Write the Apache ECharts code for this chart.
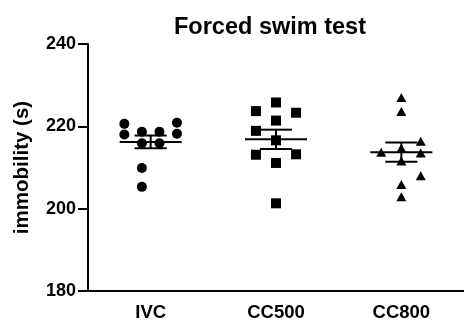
<!DOCTYPE html>
<html>
<head>
<meta charset="utf-8">
<script src="https://cdn.jsdelivr.net/npm/echarts@6.0.0/dist/echarts.min.js"></script>
<style>
html, body { margin: 0; padding: 0; background: #fff; }
#chart { width: 464px; height: 322px; }
</style>
</head>
<body>
<div id="chart"></div>
<script>
// groups and raw values (immobility, seconds)
var groups = ['IVC', 'CC500', 'CC800'];
var ivcValues   = [220.6, 218.0, 218.7, 218.7, 220.9, 218.2, 215.9, 215.9, 209.9, 205.3];
var cc500Values = [225.8, 223.7, 223.3, 221.4, 218.9, 216.6, 213.1, 213.2, 211.1, 201.3];
var cc800Values = [227.0, 223.6, 216.4, 213.7, 214.7, 213.5, 211.6, 208.0, 205.9, 202.9];
// horizontal spread of the dots inside each group (category units)
var ivcJitter   = [-0.21, -0.21, -0.07, 0.07, 0.21, 0.21, -0.07, 0.07, -0.07, -0.07];
var cc500Jitter = [0, -0.16, 0.16, 0, -0.16, 0, -0.16, 0.16, 0, 0];
var cc800Jitter = [0, 0, 0.155, -0.16, 0, 0.155, 0, 0.155, 0, 0];
var yTicks = [180, 200, 220, 240];

var allValues = [ivcValues, cc500Values, cc800Values];
var allJitter = [ivcJitter, cc500Jitter, cc800Jitter];
var symbols = ['circle', 'rect', 'triangle'];
var symbolSizes = [10, 10, [10, 9]];

function meanSem(arr) {
  var n = arr.length, s = 0;
  for (var i = 0; i < n; i++) s += arr[i];
  var m = s / n, ss = 0;
  for (var j = 0; j < n; j++) ss += (arr[j] - m) * (arr[j] - m);
  return [m, Math.sqrt(ss / (n - 1)) / Math.sqrt(n)];
}

var summary = [];
for (var g = 0; g < groups.length; g++) {
  var ms = meanSem(allValues[g]);
  summary.push([g, ms[0], ms[1]]);
}

var font = "'Liberation Sans', Arial, sans-serif";
var series = [{
  type: 'custom',
  xAxisIndex: 1,
  data: summary,
  encode: { x: 0, y: 1 },
  z: 1,
  renderItem: function (params, api) {
    var x = api.value(0), m = api.value(1), e = api.value(2);
    var c = api.coord([x, m]);
    var top = api.coord([x, m + e]);
    var bot = api.coord([x, m - e]);
    var st = { stroke: '#000', lineWidth: 2 };
    return {
      type: 'group',
      children: [
        { type: 'line', shape: { x1: c[0] - 31, y1: c[1], x2: c[0] + 31, y2: c[1] }, style: st },
        { type: 'line', shape: { x1: c[0], y1: top[1], x2: c[0], y2: bot[1] }, style: st },
        { type: 'line', shape: { x1: c[0] - 16, y1: top[1], x2: c[0] + 16, y2: top[1] }, style: st },
        { type: 'line', shape: { x1: c[0] - 16, y1: bot[1], x2: c[0] + 16, y2: bot[1] }, style: st }
      ]
    };
  }
}];

for (var k = 0; k < groups.length; k++) {
  var pts = [];
  for (var p = 0; p < allValues[k].length; p++) {
    pts.push([k + allJitter[k][p], allValues[k][p]]);
  }
  series.push({
    name: groups[k],
    type: 'scatter',
    xAxisIndex: 1,
    data: pts,
    symbol: symbols[k],
    symbolSize: symbolSizes[k],
    itemStyle: { color: '#000', opacity: 1 },
    z: 2
  });
}

var myChart = echarts.init(document.getElementById('chart'));
var option = {
  animation: false,
  backgroundColor: '#fff',
  title: {
    text: 'Forced swim test',
    left: 169,
    top: 11,
    textStyle: { fontFamily: font, fontWeight: 'bold', fontSize: 23.5, color: '#000' }
  },
  grid: { left: 88, right: 0, top: 44, bottom: 27 },
  xAxis: [{
    type: 'category',
    data: groups,
    boundaryGap: true,
    axisLine: { onZero: false, lineStyle: { color: '#000', width: 2 } },
    axisTick: { alignWithLabel: true, length: 7, lineStyle: { color: '#000', width: 2 } },
    axisLabel: { color: '#000', fontFamily: font, fontWeight: 'bold', fontSize: 18.5, margin: 12 },
    splitLine: { show: false }
  }, {
    type: 'value',
    min: -0.5,
    max: 2.5,
    show: false
  }],
  yAxis: {
    type: 'value',
    min: yTicks[0],
    max: yTicks[yTicks.length - 1],
    interval: 20,
    name: 'immobility (s)',
    nameLocation: 'middle',
    nameGap: 55,
    nameTextStyle: { color: '#000', fontFamily: font, fontWeight: 'bold', fontSize: 20.5 },
    axisLine: { show: true, onZero: false, lineStyle: { color: '#000', width: 2 } },
    axisTick: { show: true, length: 10, lineStyle: { color: '#000', width: 2 } },
    axisLabel: { color: '#000', fontFamily: font, fontWeight: 'bold', fontSize: 18, margin: 12 },
    splitLine: { show: false }
  },
  series: series
};
myChart.setOption(option);
</script>
</body>
</html>
